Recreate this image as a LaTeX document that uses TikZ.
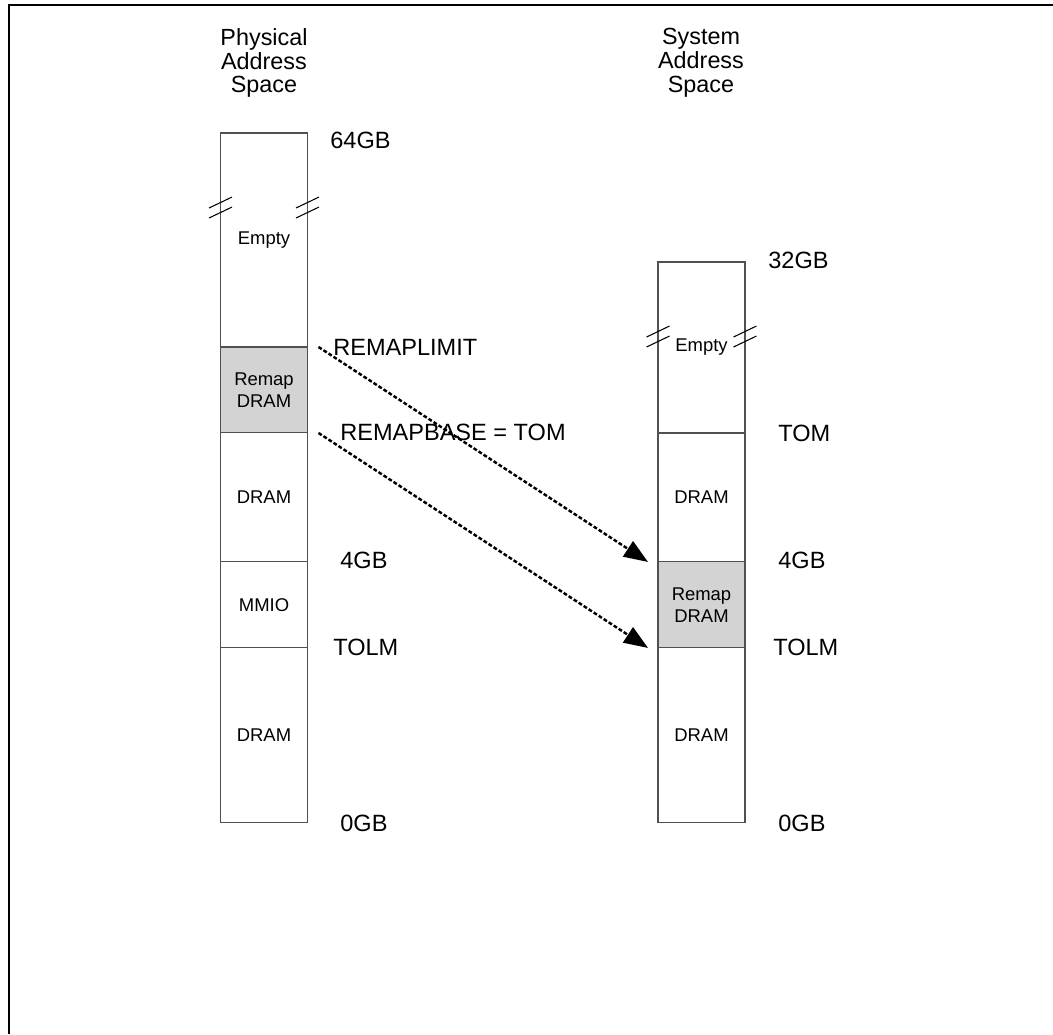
\documentclass[tikz,border=0pt]{standalone}
\usepackage{fontspec}
\setmainfont{Liberation Sans}
\usetikzlibrary{arrows.meta,positioning}
\definecolor{remapgray}{HTML}{D3D3D3}
\definecolor{edgegray}{HTML}{505050}

\begin{document}
\begin{tikzpicture}[
    x=0.02cm, y=-0.02cm,
    node distance=0pt,
    seg/.style={rectangle, draw=edgegray, line width=0.6pt, minimum width=1.74cm,
                inner sep=0pt, outer sep=0pt, align=center,
                font=\fontsize{10.5}{12.5}\selectfont},
    remapseg/.style={seg, fill=remapgray},
    lbl/.style={anchor=west, inner sep=0pt, font=\fontsize{13.4}{15}\selectfont},
    title/.style={align=center, inner sep=0pt, font=\fontsize{13.3}{13.6}\selectfont},
    brk/.style={line width=0.6pt},
    arr/.style={-{Triangle[length=0.48cm, width=0.36cm]}, line width=1.4pt,
                dash pattern=on 2.2pt off 1.2pt},
    frame/.style={line width=1.5pt},
]
    \useasboundingbox (0,0) rectangle (1053,1034);
    \draw[frame] (9,1034) -- (9,5) -- (1053,5);

    % physical address space
    \node[title] (ptitle) at (264,63) {Physical\\Address\\Space};
    \node[seg, minimum height=4.28cm] (pempty) at (264,240) {Empty};
    \node[remapseg, minimum height=1.72cm, below=of pempty] (premap) {Remap\\DRAM};
    \node[seg, minimum height=2.58cm, below=of premap] (pdram) {DRAM};
    \node[seg, minimum height=1.72cm, below=of pdram] (pmmio) {MMIO};
    \node[seg, minimum height=3.5cm, below=of pmmio] (plow) {DRAM};

    % system address space
    \node[title] (stitle) at (701,63) {System\\Address\\Space};
    \node[seg, minimum height=3.42cm] (sempty) at (701.5,347.5) {Empty};
    \node[seg, minimum height=2.58cm, below=of sempty] (sdram) {DRAM};
    \node[remapseg, minimum height=1.72cm, below=of sdram] (sremap) {Remap\\DRAM};
    \node[seg, minimum height=3.5cm, below=of sremap] (slow) {DRAM};

    % break marks
    \foreach \n in {pempty,sempty}
      \foreach \s in {west,east}
        \foreach \dy in {75,85}
          \draw[brk] ([shift={(-11.5,\dy)}]\n.north \s) -- ++(23,-11);

    % boundaries
    \node[lbl] (l64) at (330,140) {64GB};
    \node[lbl] (llimit) at (333,347) {REMAPLIMIT};
    \node[lbl] (lbase) at (340,432) {REMAPBASE = TOM};
    \node[lbl] (l4) at (340,560) {4GB};
    \node[lbl] (ltolm) at (333,647) {TOLM};
    \node[lbl] (l0) at (340,823) {0GB};

    \node[lbl] (r32) at (768,260) {32GB};
    \node[lbl] (rtom) at (778,433) {TOM};
    \node[lbl] (r4) at (778,560) {4GB};
    \node[lbl] (rtolm) at (773,647) {TOLM};
    \node[lbl] (r0) at (778,823) {0GB};

    \draw[arr] ([xshift=0.22cm]premap.north east) -- ([xshift=-0.2cm]sremap.north west);
    \draw[arr] ([xshift=0.22cm]premap.south east) -- ([xshift=-0.2cm]sremap.south west);
\end{tikzpicture}
\end{document}
